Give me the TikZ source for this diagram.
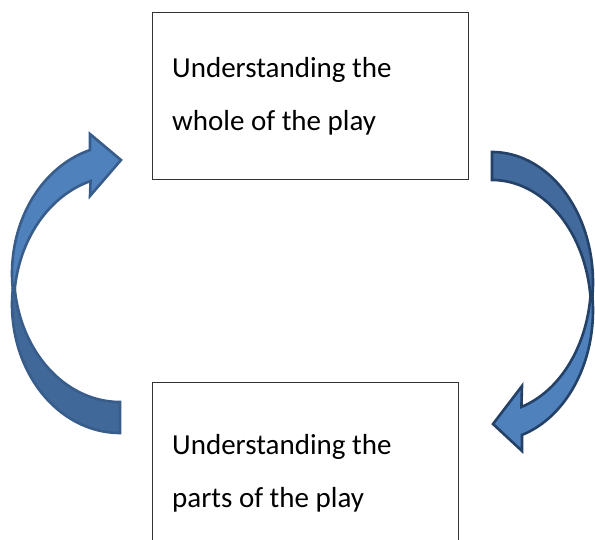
\documentclass[tikz,border=0pt]{standalone}
\usepackage{fontspec}
\setmainfont{Carlito}
\definecolor{frontblue}{RGB}{79,129,189}
\definecolor{backblueL}{RGB}{64,104,153}
\definecolor{backblueR}{RGB}{66,106,156}
\definecolor{edgeL}{RGB}{56,93,138}
\definecolor{edgeR}{RGB}{36,65,104}
\tikzset{
  boxframe/.style={draw=black!80, line width=1.1pt, fill=white},
  label/.style={anchor=base west, inner sep=0pt, font=\fontsize{29}{35}\selectfont},
  arrowL/.style={draw=edgeL, line width=2.6pt, line join=miter},
  arrowR/.style={draw=edgeR, line width=2.6pt, line join=miter},
}
\begin{document}
\begin{tikzpicture}[x=1pt,y=-1pt]
\useasboundingbox (0,0) rectangle (595,540);
\clip (0,0) rectangle (595,540);
\fill[white] (0,0) rectangle (595,540);

% top box
\node[boxframe, anchor=north west, minimum width=316pt, minimum height=167pt, inner sep=0pt] (wholebox) at (152,12) {};
\node[label] (w1) at (172,78) {Understanding the};
\node[label] (w2) at (172,131) {whole of the play};

% bottom box (cut by the page)
\node[boxframe, anchor=north west, minimum width=306pt, minimum height=220pt, inner sep=0pt] (partsbox) at (152,382) {};
\node[label] (p1) at (172,454) {Understanding the};
\node[label] (p2) at (172,507) {parts of the play};

% left curved arrow (up, pointing right)
\filldraw[arrowL, fill=backblueL] plot[domain=186.93:90, samples=80] ({120+108*cos(\x)},{304.5+128.5*sin(\x)})
  -- plot[domain=90:173.07, samples=80] ({120+106*cos(\x)},{273.5+128.5*sin(\x)}) -- cycle;
\filldraw[arrowL, fill=frontblue] plot[domain=173.07:253.87, samples=80] ({120+108*cos(\x)},{273.5+128.5*sin(\x)})
  -- (90,134) -- (121,160) -- (90,196)
  -- plot[domain=253.87:186.93, samples=80] ({120+106*cos(\x)},{304.5+128.5*sin(\x)}) -- cycle;

% right curved arrow (down, pointing left)
\filldraw[arrowR, fill=backblueR] plot[domain=-90:6.38, samples=80] ({492+101*cos(\x)},{282.4+130.4*sin(\x)})
  -- plot[domain=-6.38:-90, samples=80] ({492+99*cos(\x)},{310.4+130.4*sin(\x)}) -- cycle;
\filldraw[arrowR, fill=frontblue] plot[domain=-6.38:72.72, samples=80] ({492+101*cos(\x)},{310.4+130.4*sin(\x)})
  -- (522,451) -- (493,424) -- (522,386)
  -- plot[domain=72.72:6.38, samples=80] ({492+99*cos(\x)},{282.4+130.4*sin(\x)}) -- cycle;
\end{tikzpicture}
\end{document}
